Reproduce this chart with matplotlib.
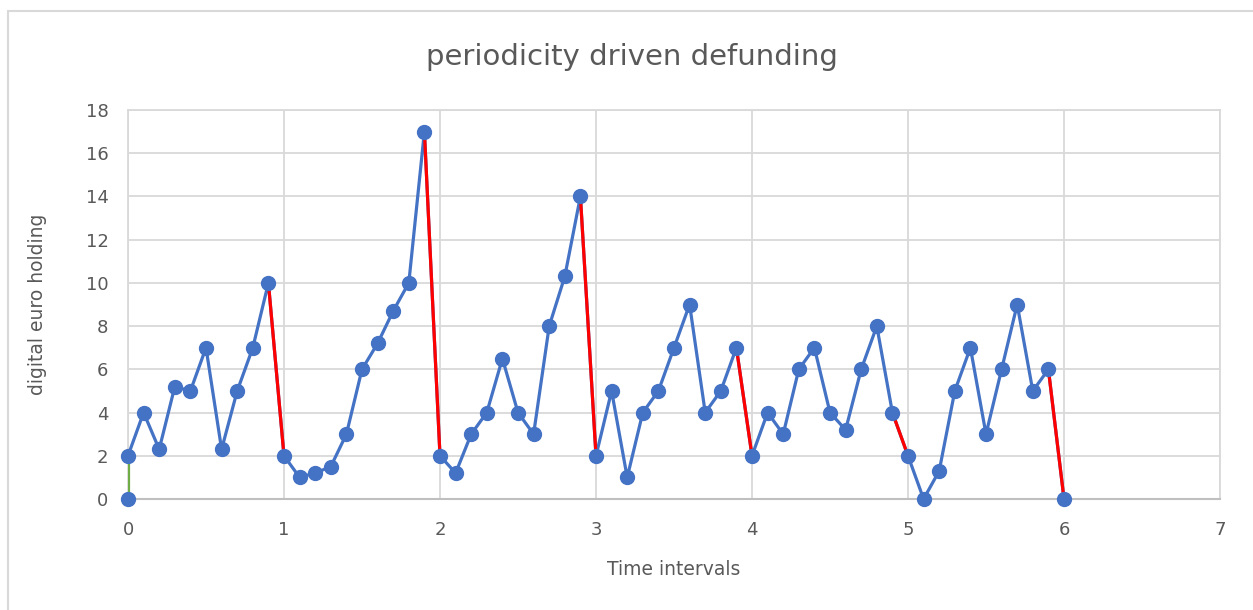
import numpy as np
import matplotlib.pyplot as plt
from matplotlib.patches import Rectangle

# digital euro holding over time
time = [0.0, 0.0, 0.1, 0.2, 0.3, 0.4, 0.5, 0.6, 0.7, 0.8, 0.9,
        1.0, 1.1, 1.2, 1.3, 1.4, 1.5, 1.6, 1.7, 1.8, 1.9,
        2.0, 2.1, 2.2, 2.3, 2.4, 2.5, 2.6, 2.7, 2.8, 2.9,
        3.0, 3.1, 3.2, 3.3, 3.4, 3.5, 3.6, 3.7, 3.8, 3.9,
        4.0, 4.1, 4.2, 4.3, 4.4, 4.5, 4.6, 4.7, 4.8, 4.9,
        5.0, 5.1, 5.2, 5.3, 5.4, 5.5, 5.6, 5.7, 5.8, 5.9,
        6.0]
holding = [0, 2, 4, 2.3, 5.2, 5, 7, 2.3, 5, 7, 10,
           2, 1, 1.2, 1.5, 3, 6, 7.2, 8.7, 10, 17,
           2, 1.2, 3, 4, 6.5, 4, 3, 8, 10.3, 14,
           2, 5, 1, 4, 5, 7, 9, 4, 5, 7,
           2, 4, 3, 6, 7, 4, 3.2, 6, 8, 4,
           2, 0, 1.3, 5, 7, 3, 6, 9, 5, 6,
           0]

# indices of segments that are defunding drops (red) and initial funding (green)
defund_idx = [10, 20, 30, 40, 50, 60]
fund_idx = [0]

blue = '#4472C4'
red = '#FF0000'
green = '#70AD47'
grey_txt = '#595959'
grid_col = '#D9D9D9'

fig = plt.figure(figsize=(12.53, 6.10), dpi=100)
ax = fig.add_axes([128 / 1253, 1 - 499 / 610, (1220 - 128) / 1253, (499 - 110) / 610])

# outer chart border
fig.patches.append(Rectangle((8 / 1253, -0.1), 1.2, 1 - 11 / 610 + 0.1,
                             transform=fig.transFigure, fill=False,
                             edgecolor=grid_col, linewidth=1.5))

ax.plot(time, holding, color=blue, linewidth=2.3, zorder=3)
for i in defund_idx:
    ax.plot(time[i:i + 2], holding[i:i + 2], color=red, linewidth=2.3, zorder=4)
for i in fund_idx:
    ax.plot(time[i:i + 2], holding[i:i + 2], color=green, linewidth=2.3, zorder=4)
ax.plot(time, holding, linestyle='none', marker='o', markersize=10,
        color=blue, zorder=5, clip_on=False)

ax.set_xlim(0, 7)
ax.set_ylim(0, 18)
ax.set_xticks(range(0, 8))
ax.set_yticks(range(0, 19, 2))
ax.grid(True, color=grid_col, linewidth=1.3)
ax.set_axisbelow(True)
for s in ['top', 'right', 'left']:
    ax.spines[s].set_color(grid_col)
    ax.spines[s].set_linewidth(1.3)
ax.spines['bottom'].set_color('#BFBFBF')
ax.spines['bottom'].set_linewidth(1.5)
ax.tick_params(length=0, labelsize=13, labelcolor=grey_txt)
ax.tick_params(axis='x', pad=16)
ax.tick_params(axis='y', pad=14)

ax.set_xlabel('Time intervals', fontsize=13.5, color=grey_txt, labelpad=15)
ax.set_ylabel('digital euro holding', fontsize=13.5, color=grey_txt, labelpad=28)
fig.text(632 / 1253, 1 - 57 / 610, 'periodicity driven defunding',
         ha='center', va='center', fontsize=21, color=grey_txt)

fig.savefig('out.png', dpi=100)
